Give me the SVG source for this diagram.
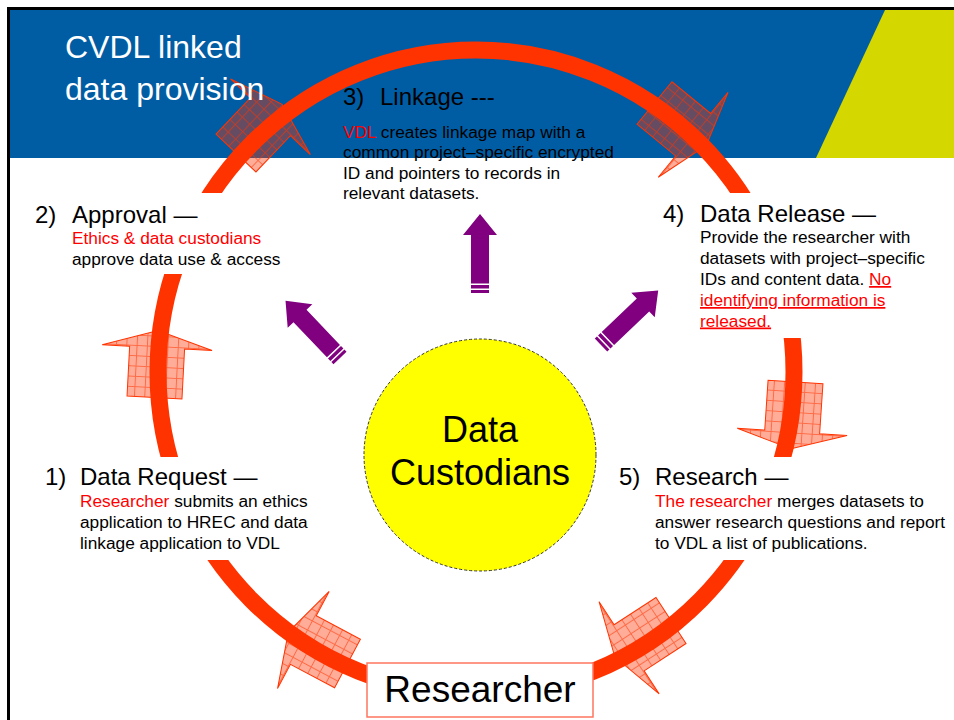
<svg xmlns="http://www.w3.org/2000/svg" width="954" height="720" viewBox="0 0 954 720">
<style>
text{font-family:"Liberation Sans",Arial,sans-serif}
.h{font-size:24px;fill:#000}
.b{font-size:17.3px;fill:#000}
.r{fill:#FF0000}
.u{fill:#FF0000;text-decoration:underline}
.title{font-size:32px;fill:#fff}
.hatch{fill:url(#grid);stroke:#FF3300;stroke-width:1}
.purple{fill:#800080}
.cover{fill:#fff}
</style>
<defs>
<pattern id="grid" patternUnits="userSpaceOnUse" width="10.3" height="10.3">
<rect width="10.3" height="10.3" fill="#FF3300" fill-opacity="0.4"/>
<path d="M0 0.5H10.3M0.5 0V10.3" stroke="#FF3300" stroke-opacity="0.55" stroke-width="1"/>
</pattern>
<path id="harrow" d="M-27.5 0L27.5 0L27.5 -50L55 -50L0 -67L-55 -50L-27.5 -50Z"/>
<g id="parrow">
<path d="M-9 -9.5L-9 -58L-17 -58L0 -79L17 -58L9 -58L9 -9.5Z"/>
<rect x="-9" y="-8" width="18" height="3.5"/>
<rect x="-9" y="-3" width="18" height="3"/>
</g>
</defs>
<rect x="0" y="0" width="954" height="720" fill="#fff"/>
<g id="background">
<rect x="10" y="10" width="944" height="148" fill="#005DA4"/>
<polygon points="885,10 954,10 954,158 816,158" fill="#D4D800"/>
<path d="M8.5 720V8.5H954" fill="none" stroke="#000" stroke-width="3"/>
</g>
<g id="connectors">
<g id="cycle-arrows" class="hatch">
<use href="#harrow" transform="translate(154.5,397.5) rotate(3)"/>
<use href="#harrow" transform="translate(236,153) rotate(43.5)"/>
<use href="#harrow" transform="translate(654.5,103) rotate(129.4)"/>
<use href="#harrow" transform="translate(795.5,382) rotate(183.8)"/>
<use href="#harrow" transform="translate(671,620.5) rotate(236.9)"/>
<use href="#harrow" transform="translate(347.5,663.5) rotate(298)"/>
</g>
<ellipse id="ring" cx="476" cy="372" rx="318" ry="322" fill="none" stroke="#FF3300" stroke-width="17"/>
<g id="purple-arrows" class="purple">
<use href="#parrow" transform="translate(480,293)"/>
<use href="#parrow" transform="translate(340,358) rotate(-43.6)"/>
<use href="#parrow" transform="translate(601,345) rotate(46.4)"/>
</g>
</g>
<g id="title">
<text class="title" x="65" y="58">CVDL linked</text>
<text class="title" x="65" y="100">data provision</text>
</g>
<g id="step2-approval">
<rect class="cover" x="20" y="193" width="280" height="81"/>
<text class="h" x="35" y="223">2)</text>
<text class="h" x="72" y="223">Approval —</text>
<text class="b"><tspan class="r" x="72" y="244">Ethics &amp; data custodians</tspan><tspan x="72" y="264.5">approve data use &amp; access</tspan></text>
</g>
<g id="step3-linkage">
<text class="h" x="343" y="105">3)</text>
<text class="h" x="380" y="105">Linkage ---</text>
<text class="b"><tspan x="343" y="137.5"><tspan class="r">VDL</tspan> creates linkage map with a</tspan><tspan x="343" y="158">common project–specific encrypted</tspan><tspan x="343" y="178.5">ID and pointers to records in</tspan><tspan x="343" y="199">relevant datasets.</tspan></text>
</g>
<g id="step4-release">
<rect class="cover" x="690" y="193" width="250" height="145"/>
<text class="h" x="663" y="222">4)</text>
<text class="h" x="700" y="222">Data Release —</text>
<text class="b"><tspan x="700" y="243">Provide the researcher with</tspan><tspan x="700" y="264">datasets with project–specific</tspan><tspan x="700" y="285">IDs and content data. <tspan class="u">No</tspan></tspan><tspan class="u" x="700" y="306">identifying information is</tspan><tspan class="u" x="700" y="326.5">released.</tspan></text>
</g>
<g id="step1-request">
<rect class="cover" x="30" y="457" width="310" height="103"/>
<text class="h" x="45" y="485">1)</text>
<text class="h" x="80" y="485">Data Request —</text>
<text class="b"><tspan x="80" y="506.5"><tspan class="r">Researcher</tspan> submits an ethics</tspan><tspan x="80" y="527.5">application to HREC and data</tspan><tspan x="80" y="548.5">linkage application to VDL</tspan></text>
</g>
<g id="step5-research">
<rect class="cover" x="610" y="457" width="330" height="103"/>
<text class="h" x="619" y="485">5)</text>
<text class="h" x="655" y="485">Research —</text>
<text class="b"><tspan x="655" y="506.5"><tspan class="r">The researcher</tspan> merges datasets to</tspan><tspan x="655" y="527.5">answer research questions and report</tspan><tspan x="655" y="548.5">to VDL a list of publications.</tspan></text>
</g>
<g id="data-custodians">
<circle cx="480" cy="455" r="116" fill="#FFFF00" stroke="#333" stroke-width="1" stroke-dasharray="3 2"/>
<text x="480" y="442" text-anchor="middle" font-size="36">Data</text>
<text x="480" y="485" text-anchor="middle" font-size="36">Custodians</text>
</g>
<g id="researcher">
<rect x="367" y="663" width="226" height="54" fill="#fff" stroke="#FF7560" stroke-width="1.5"/>
<text x="480" y="702" text-anchor="middle" font-size="37">Researcher</text>
</g>
</svg>
